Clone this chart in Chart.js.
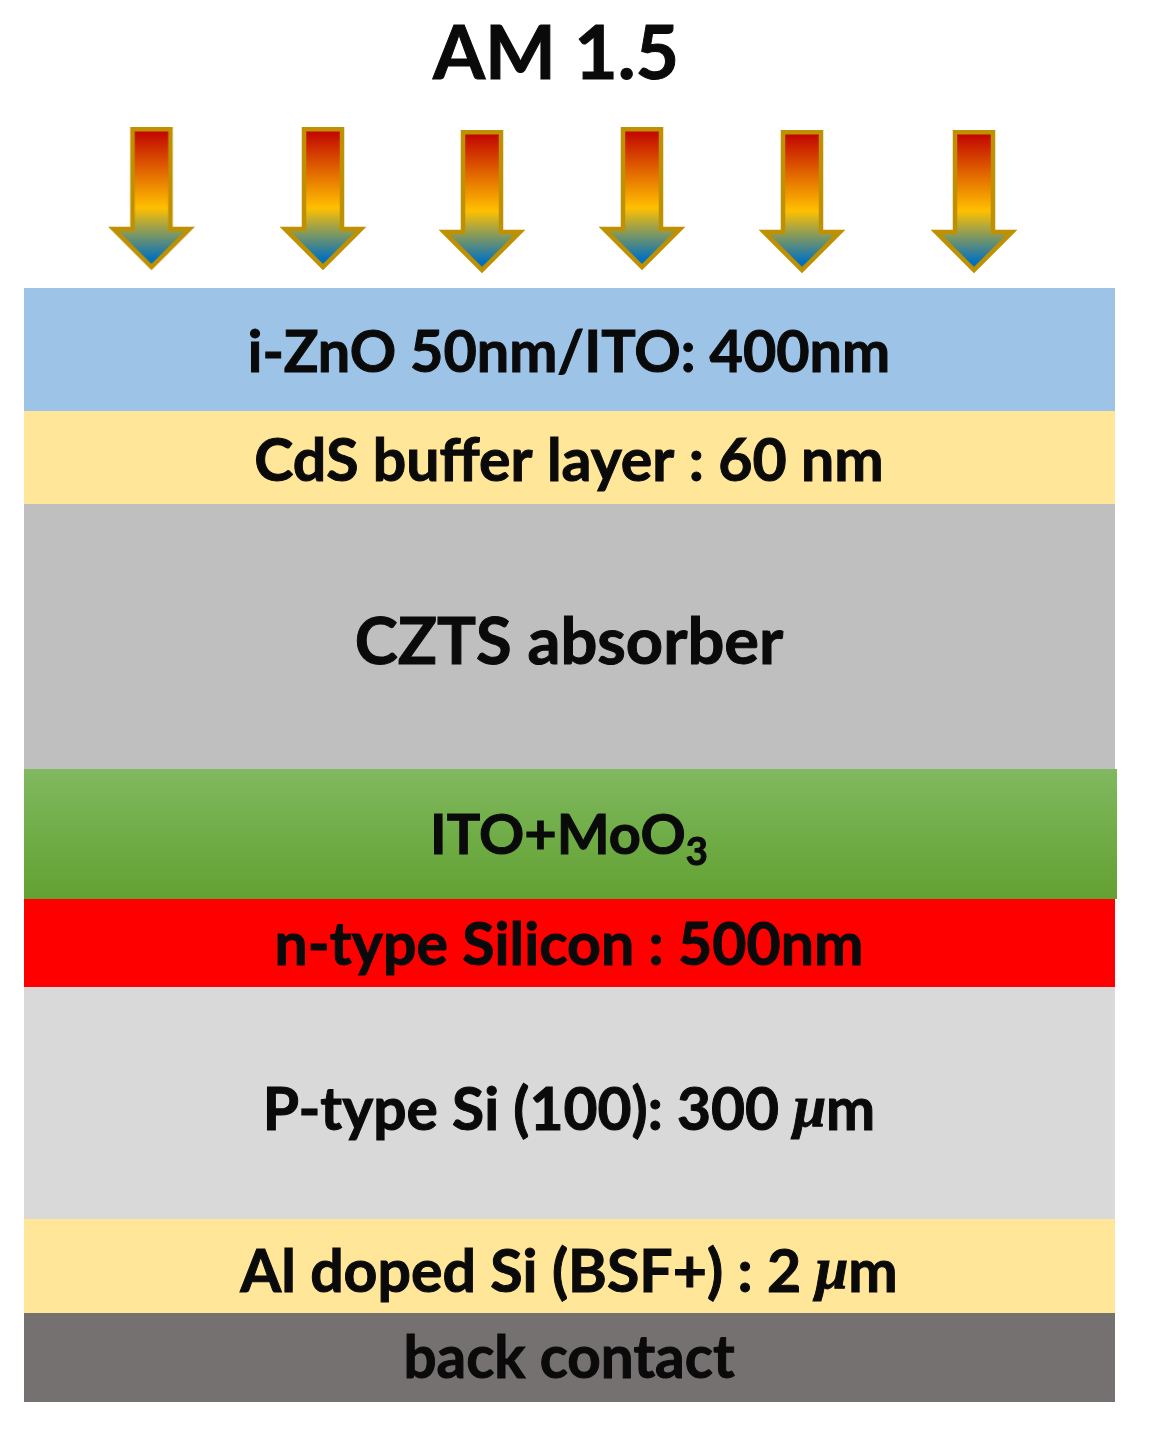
<!DOCTYPE html>
<html>
<head>
<meta charset="utf-8">
<title>AM 1.5 solar cell stack</title>
<script src="https://cdn.jsdelivr.net/npm/chart.js@4/dist/chart.umd.min.js"></script>
<style>
  html, body { margin: 0; padding: 0; background: #fff; }
  canvas { display: block; }
</style>
</head>
<body>
<canvas id="stack-chart" width="1153" height="1429"></canvas>
<script>
const titleText = "AM 1.5"

// layer edges, in picture units from the top
const layerNames = ["i-ZnO 50nm/ITO: 400nm", "CdS buffer layer : 60 nm", "CZTS absorber", "ITO+MoO₃",
    "n-type Silicon : 500nm", "P-type Si (100): 300 μm", "Al doped Si (BSF+) : 2 μm", "back contact"]
const layerTop = [288, 411, 504, 769, 899, 987, 1219, 1313]
const layerBottom = [411, 504, 769, 899, 987, 1219, 1313, 1402]

const arrowX = [151.5, 323, 482, 642, 802, 974]
const arrowY = [200, 200, 203, 200, 203, 203]

const layerColors = ["#9dc3e6", "#ffe699", "#bfbfbf", "#70ad47", "#ff0000", "#d9d9d9", "#ffe699", "#767171"]
const labelY = [353, 462, 643, 836, 946, 1111, 1273, 1359]
const labelSize = [57.5, 59, 65, 56, 59, 58.7, 59, 58.4]

// the arrow picture used as point style
function makeArrow() {
    const c = document.createElement("canvas")
    c.width = 88
    c.height = 146
    const g = c.getContext("2d")
    const grad = g.createLinearGradient(0, 2, 0, 138)
    grad.addColorStop(0, "#c00000")
    grad.addColorStop(0.58, "#ffc000")
    grad.addColorStop(0.96, "#0070c0")
    grad.addColorStop(1, "#0070c0")
    g.beginPath()
    g.moveTo(25, 2.25); g.lineTo(63, 2.25); g.lineTo(63, 102); g.lineTo(82, 102)
    g.lineTo(44, 140); g.lineTo(6, 102); g.lineTo(25, 102)
    g.closePath()
    g.fillStyle = grad
    g.fill()
    g.lineWidth = 4.5
    g.strokeStyle = "#bf9000"
    g.stroke()
    return c
}

function greenGradient(context) {
    const chart = context.chart
    const grad = chart.ctx.createLinearGradient(0, layerTop[3] / 1429 * chart.height, 0, layerBottom[3] / 1429 * chart.height)
    grad.addColorStop(0, "#81b861")
    grad.addColorStop(0.5, "#70ad47")
    grad.addColorStop(1, "#63a133")
    return grad
}

const datasets = layerNames.map((name, i) => ({
    type: "bar",
    label: name,
    data: [{ x: i === 3 ? 570.5 : 569.5, y: [layerTop[i], layerBottom[i]] }],
    backgroundColor: i === 3 ? greenGradient : layerColors[i],
    borderWidth: 0,
    barThickness: i === 3 ? 1093 : 1091,
    grouped: false,
    inflateAmount: 0,
    order: 2,
}))

datasets.push({
    type: "scatter",
    label: "AM 1.5 light",
    data: arrowX.map((x, i) => ({ x: x, y: arrowY[i] })),
    pointStyle: makeArrow(),
    order: 1,
})

// one text line, with the subscript and the italic mu drawn as their own runs
function drawRuns(ctx, text, cx, cy, size) {
    const runs = text.split(/(μ|₃)/).filter(r => r !== "")
    const fontFor = r => {
        if (r === "μ") return `italic bold ${size}px "Liberation Serif"`
        if (r === "₃") return `bold ${size * 0.68}px Lato`
        return `bold ${size}px Lato`
    }
    let total = 0
    const widths = runs.map(r => {
        ctx.font = fontFor(r)
        const w = ctx.measureText(r === "₃" ? "3" : r).width
        total += w
        return w
    })
    let x = cx - total / 2
    runs.forEach((r, i) => {
        ctx.font = fontFor(r)
        const t = r === "₃" ? "3" : r
        const y = r === "₃" ? cy + size * 0.3 : cy
        ctx.fillText(t, x, y)
        ctx.strokeText(t, x, y)
        x += widths[i]
    })
}

const layerText = {
    id: "layerText",
    afterDatasetsDraw(chart) {
        const { ctx, scales } = chart
        ctx.save()
        ctx.fillStyle = "#0a0a0a"
        ctx.strokeStyle = "#0a0a0a"
        ctx.lineWidth = 1
        ctx.textBaseline = "middle"
        ctx.textAlign = "left"
        layerNames.forEach((name, i) => {
            drawRuns(ctx, name, scales.x.getPixelForValue(569), scales.y.getPixelForValue(labelY[i]), labelSize[i])
        })
        drawRuns(ctx, titleText, scales.x.getPixelForValue(556), scales.y.getPixelForValue(55), 75)
        ctx.restore()
    },
}

new Chart(document.getElementById("stack-chart"), {
    type: "bar",
    data: { datasets: datasets },
    plugins: [layerText],
    options: {
        responsive: false,
        animation: false,
        layout: { padding: 0, autoPadding: false },
        plugins: { legend: { display: false }, tooltip: { enabled: false }, title: { display: false } },
        scales: {
            x: { type: "linear", min: 0, max: 1153, offset: false, display: false },
            y: { type: "linear", min: 0, max: 1429, reverse: true, display: false },
        },
    },
})
</script>
</body>
</html>
